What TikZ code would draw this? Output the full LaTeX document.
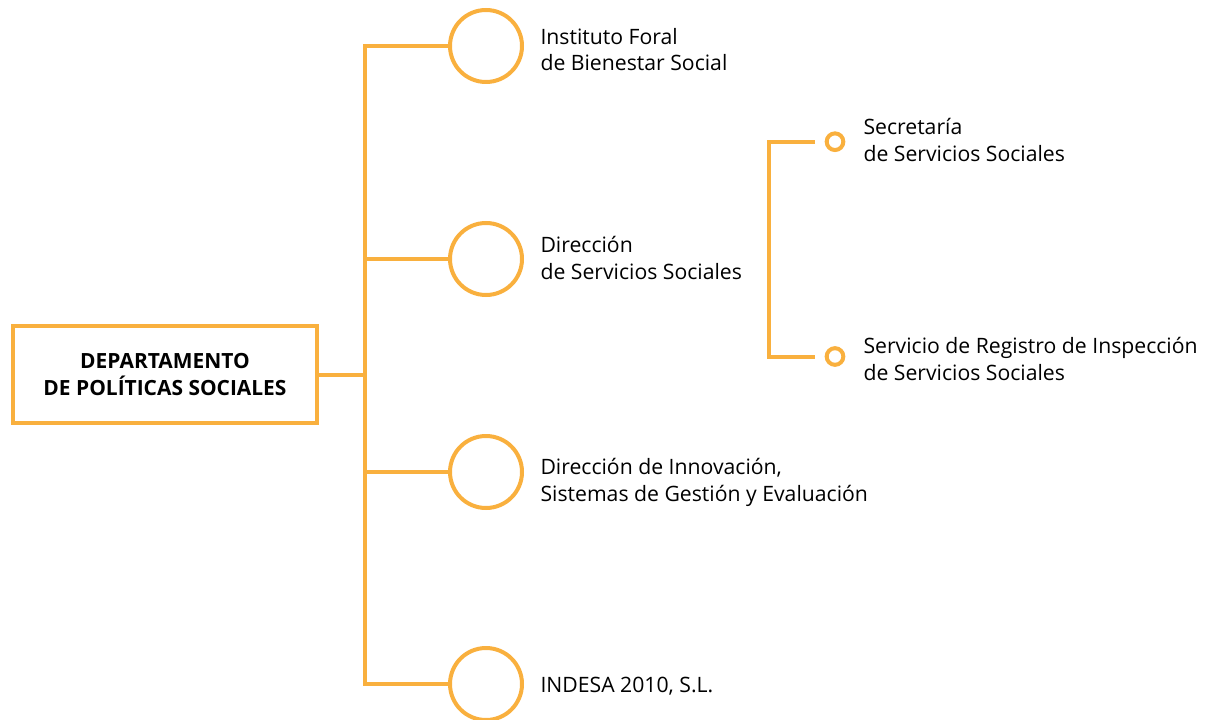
\documentclass[tikz,border=0pt]{standalone}
\usepackage{fontspec}
\setmainfont{Open Sans}
\definecolor{orgline}{RGB}{249,176,62}

\tikzset{every picture/.style={line width=0.75pt}}
\tikzset{
  branch/.style={draw=orgline, line width=3pt},
  bigring/.style={circle, draw=orgline, line width=3pt, minimum size=54pt, inner sep=0pt},
  smallring/.style={circle, draw=orgline, line width=3pt, minimum size=12.5pt, inner sep=0pt},
  unitlbl/.style={anchor=base west, inner sep=0pt, align=left, font=\fontsize{15.9}{20.2}\selectfont},
  deptbox/.style={draw=orgline, line width=3pt, minimum width=228pt, minimum height=72.75pt, align=center, inner sep=0pt, font=\fontsize{15.7}{20.5}\selectfont\bfseries}
}

\begin{document}
\begin{tikzpicture}[x=0.75pt,y=0.75pt,yscale=-1,xscale=1]
\useasboundingbox (0,0) rectangle (1209,720);

%Shape: Rectangle [id:department]
\node (dept) [deptbox] at (165,374.5) {DEPARTAMENTO\\DE POLÍTICAS SOCIALES};

%Shape: Circle [id:rings]
\node (ifbs) [bigring] at (486,46) {};
\node (dss) [bigring] at (486,259) {};
\node (disge) [bigring] at (486,472) {};
\node (indesa) [bigring] at (486,684) {};
%Shape: Circle [id:small rings]
\node (secr) [smallring] at (835,141.7) {};
\node (sreg) [smallring] at (835,356.5) {};

%Straight Lines [id:trunk]
\coordinate (trtop) at (364.5,46);
\coordinate (trbot) at (364.5,684);
\draw [branch] (ifbs.west) -- (trtop) -- (trbot) -- (indesa.west);
\draw [branch] (dept.east) -- (dept.east -| trtop);
\draw [branch] (dss.west) -- (dss.west -| trtop);
\draw [branch] (disge.west) -- (disge.west -| trtop);

%Straight Lines [id:bracket]
\coordinate (brtop) at (815,141.7);
\coordinate (brbot) at (815,356.5);
\draw [branch] (brtop) -- ++(-46,0) |- (brbot);

% Text Node
\draw (540,71) node (tifbs) [unitlbl] {Instituto Foral\\de Bienestar Social};
% Text Node
\draw (540,279) node (tdss) [unitlbl] {Dirección\\de Servicios Sociales};
% Text Node
\draw (540,501) node (tdisge) [unitlbl] {Dirección de Innovación,\\Sistemas de Gestión y Evaluación};
% Text Node
\draw (540,692.7) node (tindesa) [unitlbl] {INDESA 2010, S.L.};
% Text Node
\draw (863,161.5) node (tsecr) [unitlbl] {Secretaría\\de Servicios Sociales};
% Text Node
\draw (863,380.7) node (tsreg) [unitlbl] {Servicio de Registro de Inspección\\de Servicios Sociales};

\end{tikzpicture}
\end{document}
